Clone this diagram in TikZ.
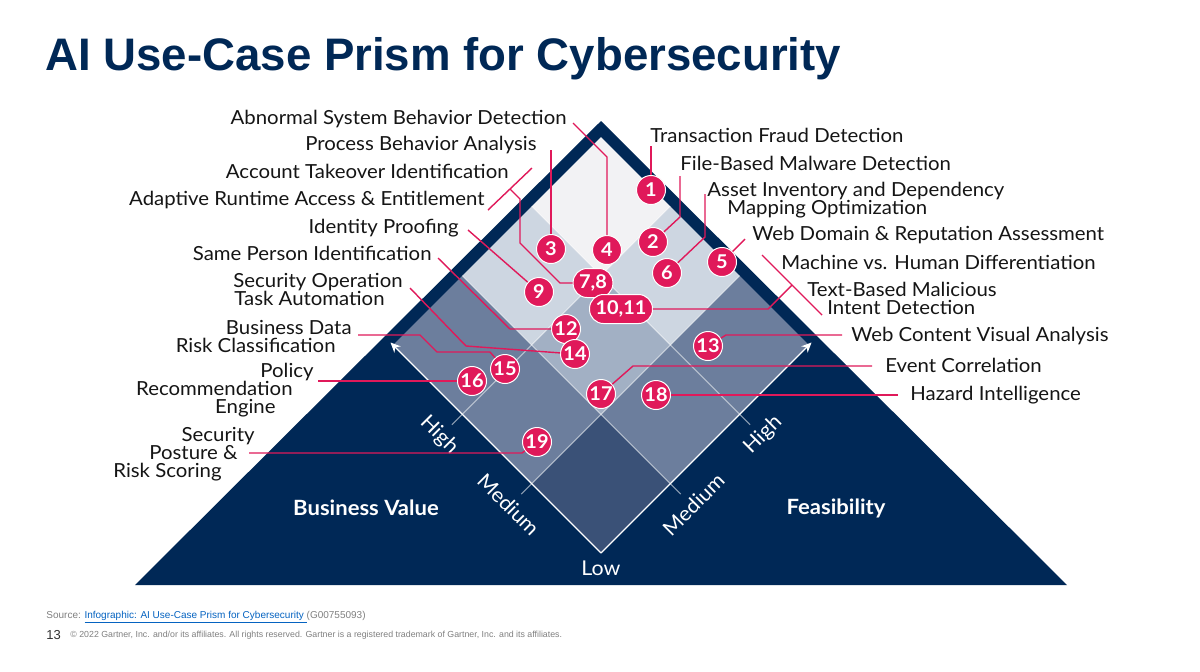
\documentclass[tikz,border=0pt]{standalone}
\usepackage{fontspec}
\setmainfont{Lato}[FakeStretch=1.05]
\newfontfamily\arialfont{Liberation Sans}
\usetikzlibrary{arrows.meta,calc}
\definecolor{navy}{HTML}{002856}
\definecolor{pinkc}{HTML}{E0195A}
\definecolor{cA}{HTML}{F2F2F4}
\definecolor{cB}{HTML}{CDD6E1}
\definecolor{cC}{HTML}{A2B0C4}
\definecolor{cD}{HTML}{6C7E9D}
\definecolor{cE}{HTML}{3A5177}
\definecolor{lbl}{HTML}{151515}
\definecolor{foot}{HTML}{808080}
\definecolor{linkc}{HTML}{0563C1}
\begin{document}
\begin{tikzpicture}[x=0.5pt,y=-0.5pt,
  conn/.style={draw=pinkc, line width=0.7pt},
  num/.style={circle, fill=pinkc, draw=white, line width=0.5pt, text=white, font=\bfseries\fontsize{9.5}{9}\selectfont, minimum size=14.5pt, inner sep=0pt},
  pill/.style={rectangle, rounded corners=7pt, fill=pinkc, draw=white, line width=0.5pt, text=white, font=\bfseries\fontsize{9.5}{9}\selectfont, minimum height=14.5pt, inner xsep=3pt, inner ysep=0pt},
  lblL/.style={anchor=base east, align=right, font=\fontsize{9.7}{9}\selectfont, text=lbl, inner sep=0pt},
  lblR/.style={anchor=base west, align=left, font=\fontsize{9.7}{9}\selectfont, text=lbl, inner sep=0pt},
  lblLm/.style={lblL, anchor=north east},
  lblRm/.style={lblR, anchor=north west},
  axislbl/.style={text=white, font=\fontsize{10.2}{10}\selectfont, inner sep=0pt},
  bold/.style={text=white, font=\bfseries\fontsize{10.5}{11}\selectfont, inner sep=0pt},
  gridln/.style={draw=white, line width=0.5pt, opacity=0.55},
  axarrow/.style={draw=white, line width=0.6pt, -{Stealth[length=5pt,width=4.5pt]}}
]
\useasboundingbox (0,0) rectangle (1200,671);
\fill[white] (0,0) rectangle (1200,671);

% title
\node[anchor=base west, inner sep=0pt, text=navy, font=\arialfont\bfseries\fontsize{22.8}{24}\selectfont] (title) at (45,70) {AI Use-Case Prism for Cybersecurity};

% prism
\fill[navy] (601,121) -- (1067,585) -- (135,585) -- cycle;
\foreach \u in {0,...,3}{\foreach \v in {0,...,3}{
  \coordinate (P\u\v) at ({601+69.333*(\v-\u)},{553-69.333*(\u+\v)});
}}
\fill[cE] (P00) -- (P10) -- (P11) -- (P01) -- cycle;
\fill[cD] (P10) -- (P20) -- (P21) -- (P11) -- cycle;
\fill[cD] (P20) -- (P30) -- (P31) -- (P21) -- cycle;
\fill[cD] (P01) -- (P11) -- (P12) -- (P02) -- cycle;
\fill[cD] (P02) -- (P12) -- (P13) -- (P03) -- cycle;
\fill[cC] (P11) -- (P21) -- (P22) -- (P12) -- cycle;
\fill[cB] (P21) -- (P31) -- (P32) -- (P22) -- cycle;
\fill[cB] (P12) -- (P22) -- (P23) -- (P13) -- cycle;
\fill[cA] (P22) -- (P32) -- (P33) -- (P23) -- cycle;
% grid lines with ticks
\draw[gridln] (521.3,494.1) -- (P13);
\draw[gridln] (451.9,424.7) -- (P23);
\draw[gridln] (680.7,494.1) -- (P31);
\draw[gridln] (750.1,424.7) -- (P32);
% axis arrows
\draw[axarrow] (P00) -- (390.5,342.5);
\draw[axarrow] (P00) -- (811.5,342.5);

% axis labels
\node[axislbl, rotate=-45] (hL) at (439,435) {High};
\node[axislbl, rotate=-45] (mL) at (508.5,504.5) {Medium};
\node[axislbl, rotate=45] (hR) at (763,435) {High};
\node[axislbl, rotate=45] (mR) at (693.5,504.5) {Medium};
\node[axislbl] (low) at (601,568) {Low};
\node[bold] (bv) at (366,508) {Business Value};
\node[bold] (fe) at (836,508) {Feasibility};

% left labels
\node[lblL] (l4) at (567,124) {Abnormal System Behavior Detection};
\node[lblL] (l3) at (537,150) {Process Behavior Analysis};
\node[lblL] (l7) at (509,178) {Account Takeover Identification};
\node[lblL] (l8) at (485,205) {Adaptive Runtime Access \& Entitlement};
\node[lblL] (l9) at (459,233) {Identity Proofing};
\node[lblL] (l12) at (432,260) {Same Person Identification};
\node[lblLm] (l14) at (403,273) {Security Operation\\Task Automation\hspace*{9pt}\mbox{}};
\node[lblLm] (l15) at (352,320) {Business Data\\Risk Classification\hspace*{8pt}\mbox{}};
\node[lblLm] (l16) at (314,363) {Policy\\Recommendation\hspace*{10.5pt}\mbox{}\\Engine\hspace*{19pt}\mbox{}};
\node[lblLm] (l19) at (255,427) {Security\\Posture \&\hspace*{8.5pt}\mbox{}\\Risk Scoring\hspace*{16.5pt}\mbox{}};

% right labels
\node[lblR] (r1) at (650,142) {Transaction Fraud Detection};
\node[lblR] (r2) at (680,170) {File-Based Malware Detection};
\node[lblRm] (r6) at (707,182) {Asset Inventory and Dependency\\\hspace*{10pt}Mapping Optimization};
\node[lblR] (r5) at (752,240) {Web Domain \& Reputation Assessment};
\node[lblR] (r10) at (781,269) {Machine vs. Human Differentiation};
\node[lblRm] (r11) at (807,282) {Text-Based Malicious\\\hspace*{10pt}Intent Detection};
\node[lblR] (r13) at (851,341) {Web Content Visual Analysis};
\node[lblR] (r17) at (885,372) {Event Correlation};
\node[lblR] (r18) at (910,400) {Hazard Intelligence};

% connectors
\coordinate (b78a) at (532,168);
\coordinate (b78b) at (488,210);
\coordinate (b1011a) at (762,255);
\coordinate (b1011b) at (822,315);
\coordinate (m78) at ($(b78a)!0.5!(b78b)$);
\coordinate (m1011) at ($(b1011a)!0.5!(b1011b)$);

% numbered markers
\node[num] (c1) at (651,190) {1};
\node[num] (c2) at (653,242) {2};
\node[num] (c3) at (551,249) {3};
\node[num] (c4) at (607,250) {4};
\node[num] (c5) at (722,262) {5};
\node[num] (c6) at (667,273) {6};
\node[pill] (c78) at (593,283) {7,8};
\node[num] (c9) at (539,292) {9};
\node[pill] (c1011) at (621,309) {10,11};
\node[num] (c12) at (566,329) {12};
\node[num] (c13) at (708,346) {13};
\node[num] (c14) at (575,354) {14};
\node[num] (c15) at (505,369) {15};
\node[num] (c16) at (472,381) {16};
\node[num] (c17) at (601,394) {17};
\node[num] (c18) at (656,395) {18};
\node[num] (c19) at (537,442) {19};

\draw[conn] (573,123) -- (607,157) -- (c4);
\draw[conn] (551,150) -- (c3);
\draw[conn] (b78a) -- (b78b);
\draw[conn] (m78) -- (520,199) -- (520,243) -- (560,283) -- (c78);
\draw[conn] (468,230) -- (c9);
\draw[conn] (438,258) -- (510,329) -- (c12);
\draw[conn] (410,288) -- (466,346) -- (c14);
\draw[conn] (358,335) -- (420,335) -- (437,352) -- (490,352) -- (c15);
\draw[conn] (318,381) -- (c16);
\draw[conn] (249,453) -- (522,453) -- (c19);
\draw[conn] (651,146) -- (c1);
\draw[conn] (680,176) -- (680,217) -- (c2);
\draw[conn] (705,194) -- (705,237) -- (c6);
\draw[conn] (745,239) -- (c5);
\draw[conn] (b1011a) -- (b1011b);
\draw[conn] (m1011) -- (768,309) -- (c1011);
\draw[conn] (842,335) -- (726,335) -- (c13);
\draw[conn] (872,366) -- (633,366) -- (c17);
\draw[conn] (898,395) -- (c18);

% footer
\node[anchor=base west, inner sep=0pt, font=\arialfont\fontsize{5}{6}\selectfont, text=foot] (src) at (46,618) {Source: \textcolor{linkc}{\underline{Infographic: AI Use-Case Prism for Cybersecurity }}(G00755093)};
\node[anchor=base west, inner sep=0pt, font=\arialfont\fontsize{6.5}{7}\selectfont, text=black!80] (pg) at (46,639) {13};
\node[anchor=base west, inner sep=0pt, font=\arialfont\fontsize{4.4}{5}\selectfont, text=foot] (copy) at (70,637) {\textcopyright{} 2022 Gartner, Inc. and/or its affiliates. All rights reserved. Gartner is a registered trademark of Gartner, Inc. and its affiliates.};
\end{tikzpicture}
\end{document}
